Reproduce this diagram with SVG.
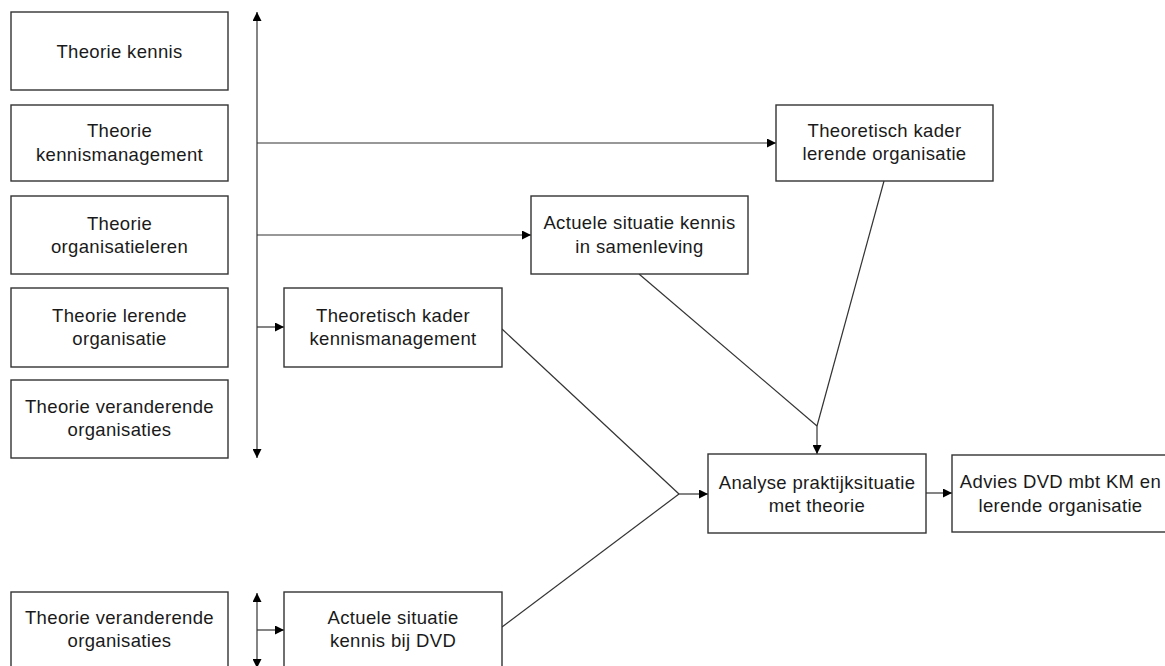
<svg xmlns="http://www.w3.org/2000/svg" width="1165" height="666" viewBox="0 0 1165 666">
  <style>
    .box { fill: #ffffff; stroke: #333333; stroke-width: 1.4; }
    .lbl { font-family: "Liberation Sans", Arial, sans-serif; font-size: 18.5px; letter-spacing: 0.35px; fill: #1a1a1a; text-anchor: middle; }
    .wire { fill: none; stroke: #333333; stroke-width: 1.2; }
    .arr { marker-end: url(#tip); }
    .both { marker-start: url(#tip); marker-end: url(#tip); }
  </style>
  <defs>
    <marker id="tip" viewBox="0 0 10 10" refX="10" refY="5" markerWidth="9" markerHeight="9" markerUnits="userSpaceOnUse" orient="auto-start-reverse">
      <path d="M0,0 L10,5 L0,10 z" fill="#000000"/>
    </marker>
  </defs>
  <rect width="1165" height="666" fill="#ffffff"/>

  <!-- connectors -->
  <g id="connectors">
    <line class="wire both" x1="257" y1="12" x2="257" y2="458"/>
    <line class="wire arr" x1="257" y1="143" x2="776" y2="143"/>
    <line class="wire arr" x1="257" y1="235" x2="531" y2="235"/>
    <line class="wire arr" x1="257" y1="327" x2="284" y2="327"/>
    <line class="wire" x1="639" y1="274" x2="817" y2="426"/>
    <line class="wire" x1="884" y1="181" x2="817" y2="426"/>
    <line class="wire arr" x1="817" y1="426" x2="817" y2="454"/>
    <line class="wire" x1="502" y1="329" x2="679" y2="494"/>
    <line class="wire" x1="502" y1="627" x2="679" y2="494"/>
    <line class="wire arr" x1="679" y1="494" x2="708" y2="494"/>
    <line class="wire arr" x1="926" y1="493" x2="952" y2="493"/>
    <line class="wire both" x1="257" y1="593" x2="257" y2="668"/>
    <line class="wire arr" x1="257" y1="630" x2="284" y2="630"/>
  </g>

  <g id="theorie-kennis">
    <rect class="box" x="11" y="12" width="217" height="78"/>
    <text class="lbl" x="119.5" y="58">Theorie kennis</text>
  </g>
  <g id="theorie-kennismanagement">
    <rect class="box" x="11" y="105" width="217" height="76"/>
    <text class="lbl" x="119.5" y="137">Theorie</text>
    <text class="lbl" x="119.5" y="161">kennismanagement</text>
  </g>
  <g id="theorie-organisatieleren">
    <rect class="box" x="11" y="196" width="217" height="78"/>
    <text class="lbl" x="119.5" y="230">Theorie</text>
    <text class="lbl" x="119.5" y="253">organisatieleren</text>
  </g>
  <g id="theorie-lerende-organisatie">
    <rect class="box" x="11" y="288" width="217" height="79"/>
    <text class="lbl" x="119.5" y="322">Theorie lerende</text>
    <text class="lbl" x="119.5" y="345">organisatie</text>
  </g>
  <g id="theorie-veranderende-organisaties">
    <rect class="box" x="11" y="380" width="217" height="78"/>
    <text class="lbl" x="119.5" y="413">Theorie veranderende</text>
    <text class="lbl" x="119.5" y="436">organisaties</text>
  </g>
  <g id="kader-kennismanagement">
    <rect class="box" x="284" y="288" width="218" height="79"/>
    <text class="lbl" x="393" y="322">Theoretisch kader</text>
    <text class="lbl" x="393" y="345">kennismanagement</text>
  </g>
  <g id="situatie-samenleving">
    <rect class="box" x="531" y="196" width="217" height="78"/>
    <text class="lbl" x="639.5" y="229">Actuele situatie kennis</text>
    <text class="lbl" x="639.5" y="253">in samenleving</text>
  </g>
  <g id="kader-lerende-organisatie">
    <rect class="box" x="776" y="105" width="217" height="76"/>
    <text class="lbl" x="884.5" y="137">Theoretisch kader</text>
    <text class="lbl" x="884.5" y="160">lerende organisatie</text>
  </g>
  <g id="analyse">
    <rect class="box" x="708" y="454" width="218" height="79"/>
    <text class="lbl" x="817" y="489">Analyse praktijksituatie</text>
    <text class="lbl" x="817" y="512">met theorie</text>
  </g>
  <g id="advies">
    <rect class="box" x="952" y="455" width="217" height="77"/>
    <text class="lbl" x="1060.5" y="488">Advies DVD mbt KM en</text>
    <text class="lbl" x="1060.5" y="512">lerende organisatie</text>
  </g>
  <g id="theorie-veranderende-organisaties-2">
    <rect class="box" x="11" y="592" width="217" height="78"/>
    <text class="lbl" x="119.5" y="624">Theorie veranderende</text>
    <text class="lbl" x="119.5" y="647">organisaties</text>
  </g>
  <g id="situatie-dvd">
    <rect class="box" x="284" y="592" width="218" height="78"/>
    <text class="lbl" x="393" y="624">Actuele situatie</text>
    <text class="lbl" x="393" y="647">kennis bij DVD</text>
  </g>
</svg>
